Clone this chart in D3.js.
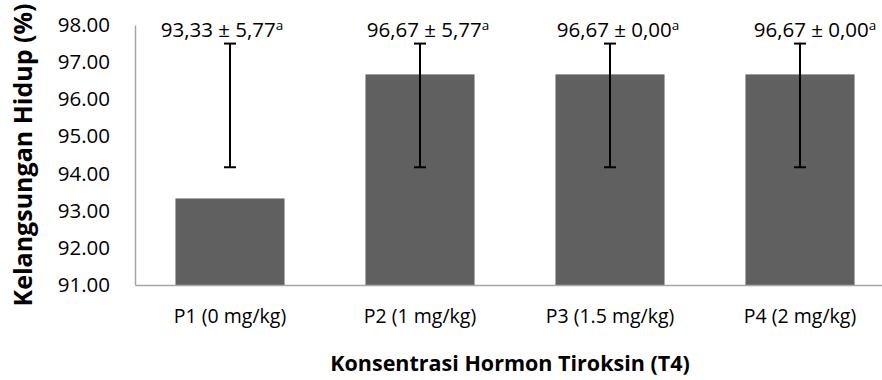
<!DOCTYPE html>
<html>
<head>
<meta charset="utf-8">
<script src="https://cdn.jsdelivr.net/npm/d3@7"></script>
<style>
  body { margin: 0; background: #fff; }
  text { font-family: "Open Sans", sans-serif; fill: #000; }
</style>
</head>
<body>
<svg id="chart" width="882" height="380"></svg>
<script>
let categories = ['P1 (0 mg/kg)', 'P2 (1 mg/kg)', 'P3 (1.5 mg/kg)', 'P4 (2 mg/kg)']
let values = [93.33, 96.67, 96.67, 96.67]
let errLow = [94.17, 94.17, 94.17, 94.17]
let errHigh = [97.5, 97.5, 97.5, 97.5]
let labels = ['93,33 ± 5,77', '96,67 ± 5,77', '96,67 ± 0,00', '96,67 ± 0,00']
let letters = ['a', 'a', 'a', 'a']
let yTicks = [91, 92, 93, 94, 95, 96, 97, 98]
let labelNudge = [-8, 8, 8, 15]

function main() {
    let svg = d3.select('#chart'),
        left = 135, right = 895, top = 25, bottom = 285

    let xScale = d3.scaleBand().domain(categories).range([left, right])
            .paddingInner(0.426).paddingOuter(0.213),
        yScale = d3.scaleLinear().domain([91, 98]).range([bottom, top])

    // y axis
    let yAxis = svg.append('g')
        .attr('transform', 'translate(' + left + ', 0)')
        .call(d3.axisLeft(yScale).tickValues(yTicks).tickSize(0).tickPadding(25).tickFormat(d3.format('.2f')))
    yAxis.select('.domain').attr('stroke', '#a6a6a6').attr('stroke-width', 1.5)
    yAxis.selectAll('text').style('font-size', '20.5px')

    // bars
    svg.selectAll('rect.bar')
        .data(values)
        .enter()
        .append('rect')
        .attr('class', 'bar')
        .attr('x', (d, i) => xScale(categories[i]))
        .attr('y', d => yScale(d))
        .attr('width', xScale.bandwidth())
        .attr('height', d => yScale(91) - yScale(d))
        .attr('fill', '#606060')

    // x axis
    let xAxis = svg.append('g')
        .attr('transform', 'translate(0, ' + bottom + ')')
        .call(d3.axisBottom(xScale).tickSize(0).tickPadding(24))
    xAxis.select('.domain').attr('stroke', '#a6a6a6').attr('stroke-width', 1.5)
    xAxis.selectAll('text').style('font-size', '19.5px')

    // error bars
    let cx = i => xScale(categories[i]) + xScale.bandwidth() / 2
    let err = svg.append('g').attr('stroke', '#000').attr('stroke-width', 2)
    errLow.forEach((lo, i) => {
        err.append('line').attr('x1', cx(i)).attr('x2', cx(i)).attr('y1', yScale(lo)).attr('y2', yScale(errHigh[i]))
        err.append('line').attr('x1', cx(i) - 6).attr('x2', cx(i) + 6).attr('y1', yScale(lo)).attr('y2', yScale(lo))
        err.append('line').attr('x1', cx(i) - 6).attr('x2', cx(i) + 6).attr('y1', yScale(errHigh[i])).attr('y2', yScale(errHigh[i]))
    })

    // value labels
    labels.forEach((t, i) => {
        let txt = svg.append('text')
            .attr('x', cx(i) + labelNudge[i])
            .attr('y', 37)
            .attr('text-anchor', 'middle')
            .style('font-size', '20.5px')
        txt.append('tspan').text(t)
        txt.append('tspan').attr('dy', -7).style('font-size', '13.5px').text(letters[i])
    })

    // axis titles
    svg.append('text')
        .attr('text-anchor', 'middle')
        .attr('transform', 'translate(32, 155) rotate(-90)')
        .style('font-size', '25px')
        .style('font-weight', 'bold')
        .text('Kelangsungan Hidup (%)')

    svg.append('text')
        .attr('text-anchor', 'middle')
        .attr('x', 510)
        .attr('y', 371)
        .style('font-size', '21.5px')
        .style('font-weight', 'bold')
        .text('Konsentrasi Hormon Tiroksin (T4)')
}

main()
</script>
</body>
</html>
